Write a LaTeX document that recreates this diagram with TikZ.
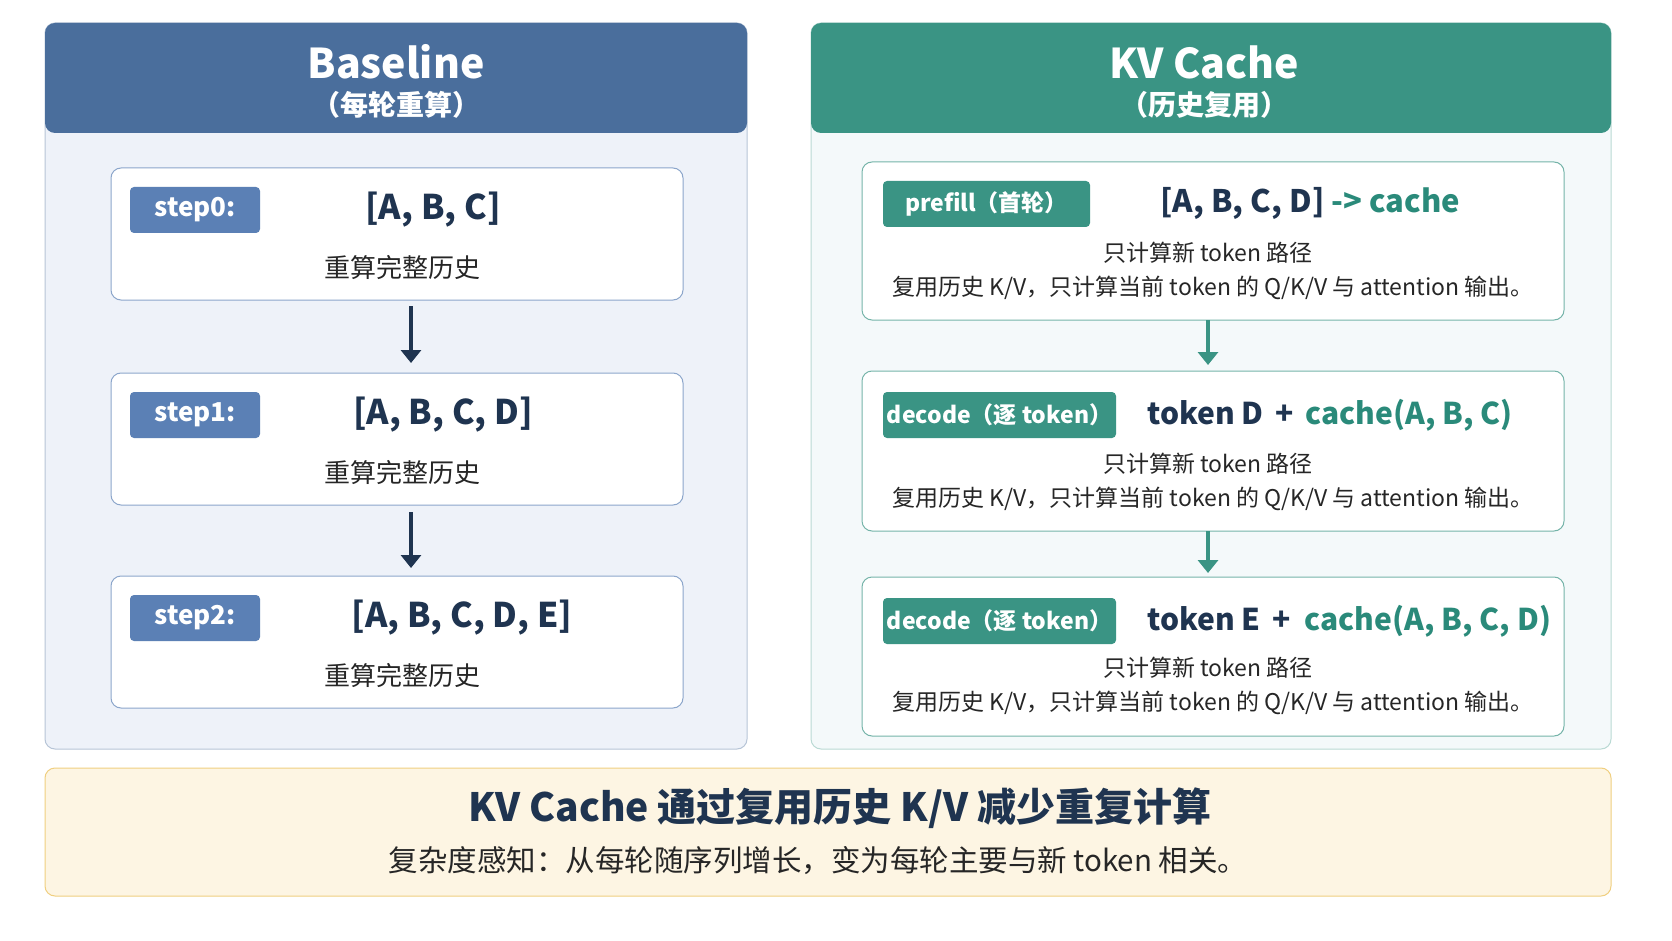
\documentclass[tikz,border=0pt]{standalone}
\usepackage{fontspec}
\setmainfont{Noto Sans CJK SC}
\usetikzlibrary{arrows.meta}
\definecolor{bhead}{HTML}{4A6E9C}
\definecolor{bbody}{HTML}{EEF2F9}
\definecolor{btag}{HTML}{5B80B5}
\definecolor{dark}{HTML}{1F3450}
\definecolor{ghead}{HTML}{3A9484}
\definecolor{gbody}{HTML}{F4F9FA}
\definecolor{gtxt}{HTML}{2A8A7A}
\definecolor{ybody}{HTML}{FDF5E3}
\definecolor{yline}{HTML}{F0CF80}
\begin{document}
\begin{tikzpicture}[x=1pt,y=-1pt,
 panel/.style={rounded corners=10pt,line width=1pt},
 inner/.style={draw=#1,fill=white,rounded corners=10pt,line width=1pt},
 tag/.style={fill=#1,rounded corners=4pt,text=white,font=\bfseries\fontsize{23}{23}\selectfont,inner sep=0pt},
 main/.style={text=dark,font=\bfseries\fontsize{34}{34}\selectfont},
 rmain/.style={text=dark,font=\bfseries\fontsize{30}{30}\selectfont},
 sub/.style={text=black!85,font=\fontsize{23}{23}\selectfont},
 arr/.style={-{Triangle[length=13pt,width=20pt]},line width=4pt}]
\path[fill=white] (0,0) rectangle (1672,941);
\useasboundingbox (0,0) rectangle (1672,941);
% left panel
\draw[panel,draw=bhead!40,fill=bbody] (45,23) rectangle (747,749);
\fill[bhead,rounded corners=10pt] (45,133) -- (45,23) -- (747,23) -- (747,133) -- cycle;
\node[text=white,font=\bfseries\fontsize{41}{41}\selectfont] (bt) at (396,62) {Baseline};
\node[text=white,font=\bfseries\fontsize{28}{28}\selectfont] (bs) at (396,105) {（每轮重算）};
\foreach \i/\y/\s/\t/\cx in {0/168/step0:/{[A, B, C]}/433,1/373/step1:/{[A, B, C, D]}/443,2/576/step2:/{[A, B, C, D, E]}/462}{
 \draw[inner=btag!70] (111,\y) rectangle (683,\y+132);
 \node[tag=btag,minimum width=130pt,minimum height=46pt,font=\bfseries\fontsize{26}{26}\selectfont] (s\i) at (195,\y+42) {\s};
 \node[main] (m\i) at (\cx,\y+42) {\t};
 \node[sub,font=\fontsize{26}{26}\selectfont] (d\i) at (402,\y+100) {重算完整历史};
}
\coordinate (a0) at (411,306); \coordinate (a1) at (411,363);
\coordinate (b0) at (411,512); \coordinate (b1) at (411,568);
\draw[arr,draw=dark,fill=dark] (a0) -- (a1);
\draw[arr,draw=dark,fill=dark] (b0) -- (b1);
% right panel
\draw[panel,draw=ghead!35,fill=gbody] (811,23) rectangle (1611,749);
\fill[ghead,rounded corners=10pt] (811,133) -- (811,23) -- (1611,23) -- (1611,133) -- cycle;
\node[text=white,font=\bfseries\fontsize{41}{41}\selectfont] (kt) at (1204,62) {KV Cache};
\node[text=white,font=\bfseries\fontsize{28}{28}\selectfont] (ks) at (1204,105) {（历史复用）};
\draw[inner=ghead!70] (862,162) rectangle (1564,320);
\draw[inner=ghead!70] (862,371) rectangle (1564,531);
\draw[inner=ghead!70] (862,577) rectangle (1564,736);
\node[tag=ghead,minimum width=207pt,minimum height=46pt] (p0) at (986.5,204) {prefill（首轮）};
\node[rmain,font=\bfseries\fontsize{31}{31}\selectfont,anchor=west] (q0) at (1157,203) {[A, B, C, D] \textcolor{gtxt}{-> cache}};
\node[tag=ghead,minimum width=233pt,minimum height=46pt] (p1) at (999.5,415) {decode（逐 token）};
\node[rmain,anchor=west] (q1) at (1144,415) {token D \,+\, \textcolor{gtxt}{cache(A, B, C)}};
\node[tag=ghead,minimum width=233pt,minimum height=46pt] (p2) at (999.5,621) {decode（逐 token）};
\node[rmain,anchor=west] (q2) at (1144,621) {token E \,+\ \ \textcolor{gtxt}{cache(A, B, C, D)}};
\foreach \i/\y in {0/253,1/464,2/668}{
 \node[sub] (x\i) at (1208,\y) {只计算新 token 路径};
 \node[sub] (y\i) at (1213,\y+35) {复用历史 K/V，只计算当前 token 的 Q/K/V 与 attention 输出。};
}
\coordinate (c0) at (1208,320); \coordinate (c1) at (1208,365);
\coordinate (e0) at (1208,531); \coordinate (e1) at (1208,573);
\draw[arr,draw=ghead,fill=ghead] (c0) -- (c1);
\draw[arr,draw=ghead,fill=ghead] (e0) -- (e1);
% bottom
\draw[panel,draw=yline,fill=ybody] (45,768) rectangle (1611,896);
\node[text=dark,font=\bfseries\fontsize{39}{39}\selectfont] (f1) at (840,808) {KV Cache 通过复用历史 K/V 减少重复计算};
\node[text=black!85,font=\fontsize{29.5}{29.5}\selectfont] (f2) at (818,861) {复杂度感知：从每轮随序列增长，变为每轮主要与新 token 相关。};
\end{tikzpicture}
\end{document}
